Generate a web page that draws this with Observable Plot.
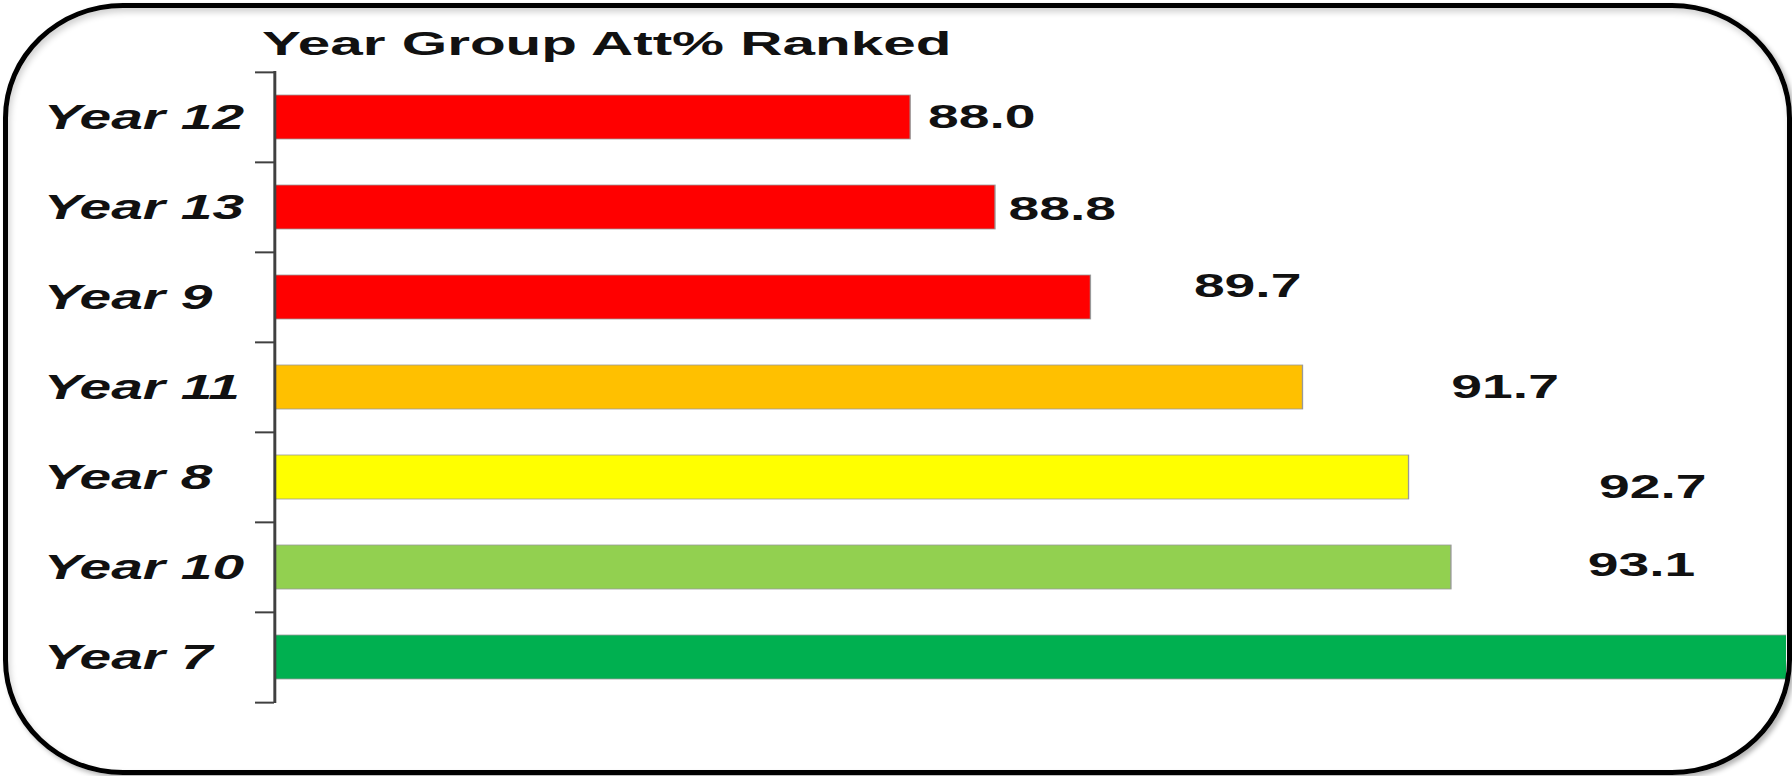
<!DOCTYPE html>
<html>
<head>
<meta charset="utf-8">
<script src="https://cdn.jsdelivr.net/npm/d3@7"></script>
<script src="https://cdn.jsdelivr.net/npm/@observablehq/plot@0.6"></script>
<style>
  html, body { margin: 0; padding: 0; background: #fff; }
  #page { position: relative; width: 1792px; height: 776px; overflow: hidden; background: #fff; }
  #title {
    position: absolute; left: 262px; top: 27px; margin: 0;
    font: bold 33.5px/1 "Liberation Sans", Arial, sans-serif; color: #111;
    white-space: nowrap; transform: scaleX(1.744); transform-origin: 0 0;
  }
  #chart { position: absolute; left: 0; top: 60px; }
  #frame {
    position: absolute; left: 3px; top: 3px; width: 1789px; height: 772px;
    box-sizing: border-box; border: 5px solid #000; border-radius: 120px / 115px;
    box-shadow: inset 2px 4px 6px rgba(0,0,0,0.18), 3px 3px 5px rgba(0,0,0,0.3);
    pointer-events: none; z-index: 5;
  }
</style>
</head>
<body>
<div id="page">
  <div id="title">Year Group Att% Ranked</div>
  <div id="chart"></div>
  <div id="frame"></div>
</div>
<script>
// ---- data ----
const categories = ["Year 12", "Year 13", "Year 9", "Year 11", "Year 8", "Year 10", "Year 7"];
const attendance = [88.0, 88.8, 89.7, 91.7, 92.7, 93.1, 96.5];
const xAxisMin = 82;
const xAxisMax = 96.26;

// ---- style (not data) ----
const barColors = ["#FF0000", "#FF0000", "#FF0000", "#FFC000", "#FFFF00", "#92D050", "#00B050"];
const labelDx = [10.3, 7.7, 62.2, 89.7, 114.9, 82.4, 10];
const labelDy = [0, 1.5, -11, 0, 9.5, -2, 0];

const data = categories.map((year, i) => ({year, value: attendance[i], i}));
// the value label of a bar running past the visible axis is off the picture
const labelled = data.filter(d => d.value <= xAxisMax);

const S = 1.65;            // horizontal stretch of the original picture
const PW = 1792;           // physical width
const LW = PW / S;         // logical width
const H = 716, MT = 11, MB = 73;
const bandStep = (H - MT - MB) / categories.length;
const font = "'Liberation Sans', Arial, sans-serif";

const plot = Plot.plot({
  width: LW,
  height: H,
  marginTop: MT,
  marginBottom: MB,
  marginLeft: 274 / S,
  marginRight: (PW - 1786) / S,
  x: {domain: [xAxisMin, xAxisMax], axis: null},
  y: {domain: categories, paddingInner: 0.51, paddingOuter: 0.255, axis: null},
  color: {domain: categories, range: barColors},
  style: {fontFamily: font, background: "transparent", color: "#111"},
  marks: [
    Plot.barX(data, {x1: xAxisMin, x2: "value", y: "year", fill: "year", stroke: "#999", strokeWidth: 0.8, clip: true}),
    Plot.ruleX([xAxisMin], {stroke: "#404040", strokeWidth: 1.8}),
    Plot.axisY({ticks: categories, text: null, label: null, tickSize: 11.5, dy: -bandStep / 2, stroke: "#404040", strokeWidth: 2}),
    Plot.axisY({ticks: [categories[categories.length - 1]], text: null, label: null, tickSize: 11.5, dy: bandStep / 2, stroke: "#404040", strokeWidth: 2}),
    Plot.axisY({ticks: categories, label: null, tickSize: 0, tickPadding: 140.1, textAnchor: "start",
      fontSize: 34.5, fontWeight: "bold", fontStyle: "italic", fontFamily: font, fill: "#111"}),
    ...labelled.map(d => Plot.text([d], {
      x: "value", y: "year", text: r => r.value.toFixed(1), textAnchor: "start",
      dx: labelDx[d.i], dy: labelDy[d.i], fontSize: 33.5, fontWeight: "bold", fontFamily: font, fill: "#111"
    }))
  ]
});

plot.setAttribute("width", PW);
plot.setAttribute("height", H);
plot.setAttribute("viewBox", `0 0 ${LW} ${H}`);
plot.setAttribute("preserveAspectRatio", "none");
plot.style.width = PW + "px";
plot.style.height = H + "px";
plot.style.maxWidth = "none";
document.getElementById("chart").appendChild(plot);
</script>
</body>
</html>
